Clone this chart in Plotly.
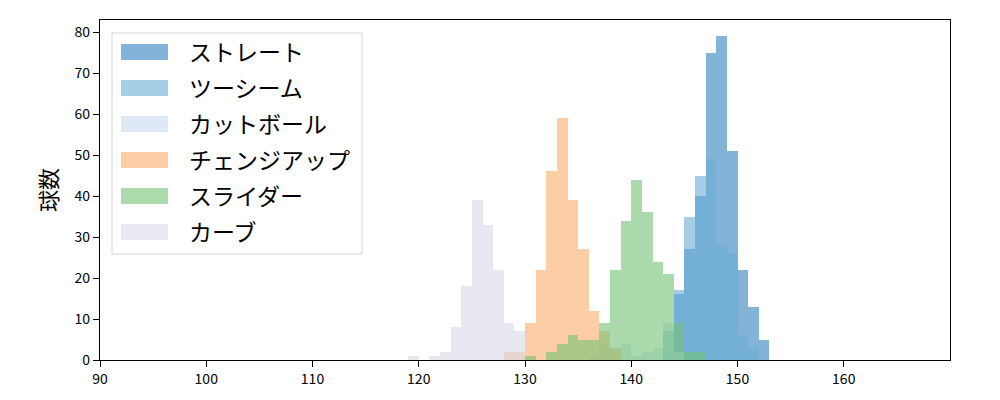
import plotly.graph_objects as go

# 球速ヒストグラム (1 km/h 刻み, 各リストはビンの左端)
straight_bins = [143, 144, 145, 146, 147, 148, 149, 150, 151, 152]
straight_counts = [7, 16, 27, 40, 75, 79, 51, 22, 13, 5]

twoseam_bins = [143, 144, 145, 146, 147, 148, 149, 150, 151]
twoseam_counts = [2, 17, 35, 45, 49, 28, 26, 6, 3]

cutter_bins = [136, 137, 138, 139, 140, 141, 142, 143, 144]
cutter_counts = [1, 4, 3, 4, 1, 2, 3, 9, 2]

change_bins = [128, 129, 130, 131, 132, 133, 134, 135, 136, 137, 138]
change_counts = [2, 2, 9, 22, 46, 59, 39, 27, 12, 7, 3]

slider_bins = [130, 132, 133, 134, 135, 136, 137, 138, 139, 140, 141, 142, 143, 144, 145, 146]
slider_counts = [1, 2, 4, 6, 5, 5, 9, 22, 34, 44, 36, 24, 21, 9, 2, 2]

curve_bins = [119, 121, 122, 123, 124, 125, 126, 127, 128, 129]
curve_counts = [1, 1, 2, 8, 18, 39, 33, 22, 9, 7]

pitches = [
    ("ストレート", straight_bins, straight_counts, "#3182bd"),
    ("ツーシーム", twoseam_bins, twoseam_counts, "#6baed6"),
    ("カットボール", cutter_bins, cutter_counts, "#c6dbef"),
    ("チェンジアップ", change_bins, change_counts, "#fdae6b"),
    ("スライダー", slider_bins, slider_counts, "#74c476"),
    ("カーブ", curve_bins, curve_counts, "#dadaeb"),
]

x_ticks = [90, 100, 110, 120, 130, 140, 150, 160]
y_ticks = [0, 10, 20, 30, 40, 50, 60, 70, 80]

FONT = "Noto Sans CJK JP"
ALPHA = 0.6

fig = go.Figure()
for name, bins, counts, color in pitches:
    fig.add_trace(go.Bar(
        x=bins, y=counts, width=1, offset=0, name=name,
        marker=dict(color=color, line=dict(width=0)),
        opacity=ALPHA, showlegend=False,
    ))

# プロット領域 (画面上のピクセル) : x 100-950, y 20-360
PL, PR, PT, PB = 100, 950, 20, 360
def px(x):
    return (x - PL) / (PR - PL)
def py(y):
    return (PB - y) / (PB - PT)

# matplotlib風の凡例 (枠 + 横長パッチ + ラベル)
shapes = [dict(type="rect", xref="paper", yref="paper",
               x0=px(112), x1=px(362), y0=py(254), y1=py(33),
               line=dict(color="#d5d5d5", width=1), fillcolor="rgba(255,255,255,0.8)",
               layer="above")]
annotations = []
for i, (name, bins, counts, color) in enumerate(pitches):
    yc = 52 + 36 * i
    shapes.append(dict(type="rect", xref="paper", yref="paper",
                       x0=px(121), x1=px(168), y0=py(yc + 8), y1=py(yc - 8),
                       line=dict(width=0), fillcolor=color, opacity=ALPHA, layer="above"))
    annotations.append(dict(xref="paper", yref="paper", x=px(187), y=py(yc - 1),
                            text=name, showarrow=False, xanchor="left", yanchor="middle",
                            font=dict(family=FONT, size=23, color="#000000")))

# ページ本体の 8px 余白を差し引いた寸法
fig.update_layout(
    width=992, height=392,
    margin=dict(l=92, r=50, t=12, b=40),
    paper_bgcolor="white", plot_bgcolor="white",
    barmode="overlay", bargap=0,
    font=dict(family=FONT, size=13, color="#000000"),
    shapes=shapes, annotations=annotations,
)
fig.update_xaxes(range=[90, 170], tickvals=x_ticks, ticks="outside", ticklen=6, tickwidth=1.3,
                 tickcolor="#000000", showline=True, linecolor="#000000", linewidth=1.3,
                 mirror=True, showgrid=False, zeroline=False,
                 tickfont=dict(family=FONT, size=14))
fig.update_yaxes(range=[0, 82.95], tickvals=y_ticks, ticks="outside", ticklen=6, tickwidth=1.3,
                 tickcolor="#000000", showline=True, linecolor="#000000", linewidth=1.3,
                 mirror=True, showgrid=False, zeroline=False,
                 title=dict(text="球数", font=dict(family=FONT, size=22), standoff=10),
                 tickfont=dict(family=FONT, size=14))

fig.write_html("out.html")
